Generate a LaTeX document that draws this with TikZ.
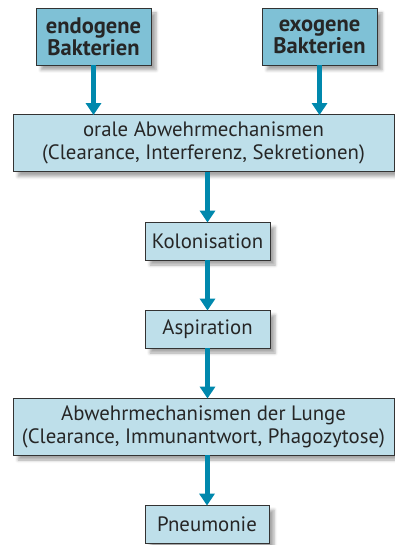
\documentclass[tikz,border=0pt]{standalone}
\usepackage{fontspec}
\setmainfont{PT Sans}
\usetikzlibrary{arrows.meta,shadows.blur}
\definecolor{boxlight}{HTML}{BEDFEA}
\definecolor{boxdark}{HTML}{7FC1D6}
\definecolor{arrowc}{HTML}{0088AD}
\definecolor{edgec}{HTML}{333333}
\tikzset{
  basebox/.style={draw=edgec, line width=0.8pt, align=center, inner sep=0pt,
    text=black!85, font=\fontsize{20.8}{23}\selectfont,
    blur shadow={shadow xshift=5pt, shadow yshift=-5pt, shadow blur radius=3pt, shadow opacity=35}},
  topbox/.style={basebox, fill=boxdark, font=\bfseries\fontsize{22.5}{22}\selectfont,
    minimum width=115pt, minimum height=57pt},
  widebox/.style={basebox, fill=boxlight, minimum width=381pt, minimum height=57pt},
  smallbox/.style={basebox, fill=boxlight, minimum width=125pt, minimum height=38pt},
  flow/.style={draw=arrowc, line width=5pt, -{Triangle[width=15pt,length=12pt]}, shorten >=-1pt}
}
\begin{document}
\begin{tikzpicture}[x=1pt,y=-1pt]
\useasboundingbox (0,0) rectangle (395,545);
\node[topbox] (endo) at (93.5,36.5) {endogene\\Bakterien};
\node[topbox] (exo) at (319.5,36.5) {exogene\\Bakterien};
\node[widebox] (oral) at (203.5,143) {orale Abwehrmechanismen\\(Clearance, Interferenz, Sekretionen)};
\node[smallbox] (kol) at (207.5,241) {Kolonisation};
\node[smallbox] (asp) at (207.5,329) {Aspiration};
\node[widebox] (lunge) at (203.5,426.5) {Abwehrmechanismen der Lunge\\(Clearance, Immunantwort, Phagozytose)};
\node[smallbox, minimum width=124pt] (pneu) at (207,524) {Pneumonie};
\draw[flow] (endo.south) -- (endo.south |- oral.north);
\draw[flow] (exo.south) -- (exo.south |- oral.north);
\draw[flow] (oral.south -| kol.north) -- (kol.north);
\draw[flow] (kol.south) -- (asp.north);
\draw[flow] (asp.south) -- (asp.south |- lunge.north);
\draw[flow] (lunge.south -| pneu.north) -- (pneu.north);
\end{tikzpicture}
\end{document}
